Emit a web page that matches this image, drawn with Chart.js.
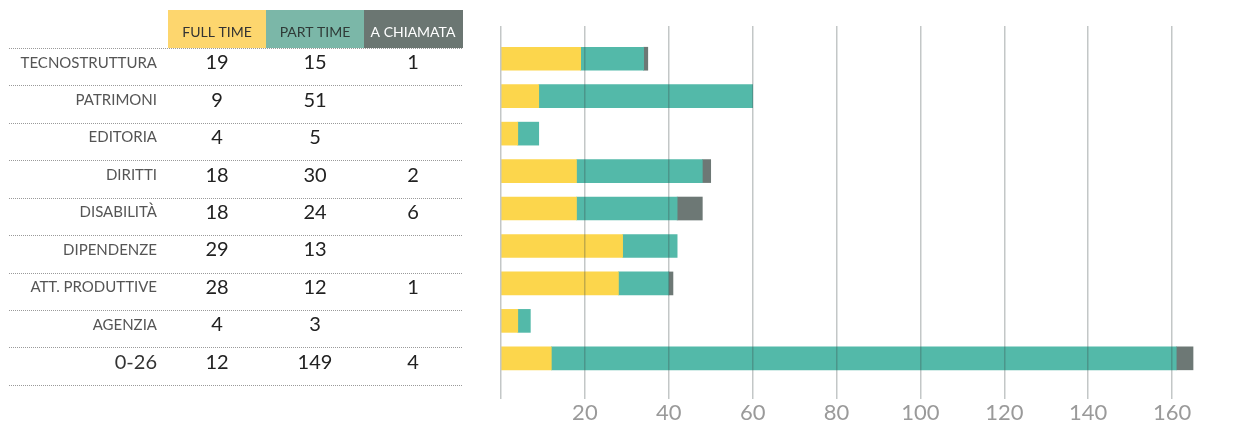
<!DOCTYPE html>
<html>
<head>
<meta charset="utf-8">
<script src="https://cdn.jsdelivr.net/npm/chart.js@4"></script>
<style>
  body { margin: 0; background: #fff; }
  #wrap { width: 1248px; height: 427px; position: relative; }
</style>
</head>
<body>
<div id="wrap"><canvas id="staff-chart"></canvas></div>
<script>
//data
const categories = ['TECNOSTRUTTURA', 'PATRIMONI', 'EDITORIA', 'DIRITTI', 'DISABILITÀ', 'DIPENDENZE', 'ATT. PRODUTTIVE', 'AGENZIA', '0-26'];
const fullTime = [19, 9, 4, 18, 18, 29, 28, 4, 12];
const partTime = [15, 51, 5, 30, 24, 13, 12, 3, 149];
const chiamata = [1, null, null, 2, 6, null, 1, null, 4];
const seriesNames = ['FULL TIME', 'PART TIME', 'A CHIAMATA'];
const xTicks = [0, 20, 40, 60, 80, 100, 120, 140, 160];

//colours
const barColors = ['#fcd64c', '#53b9a9', '#6d7875'];
const headColors = ['#fdd66e', '#7bb7a8', '#6b7672'];
const headText = ['#333333', '#2f3a37', '#ffffff'];
const colCenters = [217, 315, 413];
const colEdges = [168, 266, 364, 463];

const toPoints = arr => arr.map((v, i) => ({ x: v, y: i }));

//table on the left, rows follow the y scale
const tablePlugin = {
  id: 'table',
  afterDraw(chart) {
    const ctx = chart.ctx;
    const y = chart.scales.y;
    ctx.save();

    //header boxes
    const headTop = 10;
    const headBottom = Math.round(y.getPixelForValue(-0.29));
    seriesNames.forEach((name, c) => {
      ctx.fillStyle = headColors[c];
      ctx.fillRect(colEdges[c], headTop, colEdges[c + 1] - colEdges[c], headBottom - headTop);
      ctx.fillStyle = headText[c];
      ctx.font = '14px Lato';
      ctx.textAlign = 'center';
      ctx.textBaseline = 'middle';
      ctx.fillText(name, colCenters[c], (headTop + headBottom) / 2 + 3);
    });

    //dotted separators
    ctx.strokeStyle = '#9a9a9a';
    ctx.lineWidth = 1;
    ctx.setLineDash([1, 1]);
    for (let i = 0; i <= categories.length; i++) {
      const py = Math.round(y.getPixelForValue(i === categories.length ? i - 0.28 : i - 0.29)) + 0.5;
      ctx.beginPath();
      ctx.moveTo(9, py);
      ctx.lineTo(463, py);
      ctx.stroke();
    }
    ctx.setLineDash([]);

    //rows
    const cols = [fullTime, partTime, chiamata];
    categories.forEach((cat, i) => {
      const py = y.getPixelForValue(i) + 4;
      ctx.textBaseline = 'middle';
      ctx.textAlign = 'right';
      if (/^[0-9-]+$/.test(cat)) {
        ctx.font = '20px Lato';
        ctx.fillStyle = '#333333';
      } else {
        ctx.font = '15px Lato';
        ctx.fillStyle = '#555555';
      }
      ctx.fillText(cat, 157, py);

      ctx.textAlign = 'center';
      ctx.font = '20px Lato';
      ctx.fillStyle = '#222222';
      cols.forEach((arr, c) => {
        if (arr[i] !== null) ctx.fillText(String(arr[i]), colCenters[c], py);
      });
    });
    ctx.restore();
  }
};

const staffChart = new Chart(document.getElementById('staff-chart'), {
  type: 'bar',
  data: {
    datasets: [
      { label: seriesNames[0], data: toPoints(fullTime), backgroundColor: barColors[0] },
      { label: seriesNames[1], data: toPoints(partTime), backgroundColor: barColors[1] },
      { label: seriesNames[2], data: toPoints(chiamata), backgroundColor: barColors[2] }
    ]
  },
  options: {
    indexAxis: 'y',
    responsive: true,
    maintainAspectRatio: false,
    animation: false,
    barThickness: 23,
    layout: { padding: { left: 501, right: 34, top: 26, bottom: 0 } },
    scales: {
      x: {
        type: 'linear',
        stacked: true,
        min: 0,
        max: 170,
        afterBuildTicks: scale => {
          scale.ticks = xTicks.map(v => ({ value: v }));
        },
        //grid goes over the bars
        grid: { color: 'rgba(55,70,70,0.3)', lineWidth: 1.5, drawTicks: false, z: 1 },
        border: { display: false },
        ticks: {
          padding: 3,
          color: '#9a9a9a',
          font: { family: 'Lato', size: 22, lineHeight: 1 },
          callback: v => (v === 0 ? '' : v)
        }
      },
      y: {
        type: 'linear',
        stacked: true,
        reverse: true,
        offset: false,
        min: -0.874,
        max: 9.086,
        display: false
      }
    },
    plugins: {
      legend: { display: false },
      tooltip: { enabled: false }
    }
  },
  plugins: [tablePlugin]
});
</script>
</body>
</html>
